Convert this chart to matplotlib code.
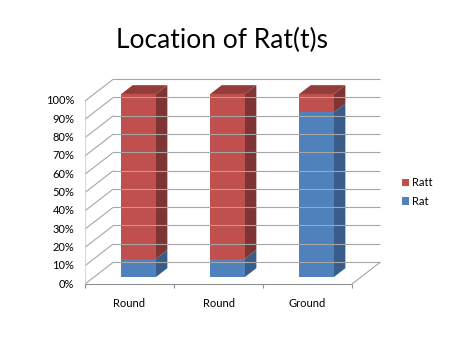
import numpy as np
import matplotlib.pyplot as plt
from matplotlib.patches import Polygon, Patch

# DATA
categories = ["Round", "Round", "Ground"]
rat = [10, 10, 90]
ratt = [90, 90, 10]
series_names = ["Rat", "Ratt"]
yticks = list(range(0, 101, 10))

# STYLE
front_colors = ["#4F81BD", "#C0504D"]
side_colors = ["#385D8A", "#7E3533"]
top_colors = ["#3E6797", "#943C3A"]
grid_color = "#A6A6A6"
plt.rcParams['font.family'] = ['Lato', 'DejaVu Sans']

fig = plt.figure(figsize=(4.59, 3.5), dpi=100)
ax = fig.add_axes([85 / 459, 66 / 350, 267 / 459, 183 / 350])
ax.set_xlim(0, len(categories))
ax.set_ylim(0, 100)
ax.axis('off')

# depth vector of the 3d box, in data units
dx, dy = 0.32, 12.0
f0, f1 = 0.32, 0.72   # bar front / back depth fraction
bar_w = 0.39
n = len(categories)

def line(xs, ys, **kw):
    ax.plot(xs, ys, clip_on=False, solid_capstyle='butt', **kw)

# walls
for v in yticks:
    line([dx, n + dx], [v + dy, v + dy], color=grid_color, lw=0.8)
    line([0, dx], [v, v + dy], color=grid_color, lw=0.8)
line([0, 0], [0, 100], color="#D0D0D0", lw=0.6)
line([0, n], [0, 0], color="#909090", lw=0.8)
line([n, n + dx], [0, dy], color=grid_color, lw=0.8)
for i in range(n + 1):
    line([i, i], [0, -2.3], color="#909090", lw=0.8)

# tick labels
for v in yticks:
    ax.text(-0.12, v, "{}%".format(v), ha='right', va='center', fontsize=8, clip_on=False)
for i, c in enumerate(categories):
    ax.text(i + 0.5, -10.4, c, ha='center', va='center', fontsize=8, clip_on=False)

# bars
series = [rat, ratt]
for i in range(n):
    bottom = 0
    xa = i + 0.5 - bar_w / 2 + dx * f0
    xb = xa + bar_w
    oy = dy * f0
    ddx, ddy = dx * (f1 - f0), dy * (f1 - f0)
    for s, vals in enumerate(series):
        y0, y1 = bottom + oy, bottom + vals[i] + oy
        ax.add_patch(Polygon([(xb, y0), (xb + ddx, y0 + ddy), (xb + ddx, y1 + ddy), (xb, y1)],
                             closed=True, facecolor=side_colors[s], edgecolor='none', clip_on=False))
        ax.add_patch(Polygon([(xa, y0), (xb, y0), (xb, y1), (xa, y1)],
                             closed=True, facecolor=front_colors[s], edgecolor='none', clip_on=False))
        bottom += vals[i]
        if s == len(series) - 1:
            ax.add_patch(Polygon([(xa, y1), (xb, y1), (xb + ddx, y1 + ddy), (xa + ddx, y1 + ddy)],
                                 closed=True, facecolor=top_colors[s], edgecolor='none', clip_on=False))

# legend
handles = [Patch(facecolor=front_colors[1], label=series_names[1]),
           Patch(facecolor=front_colors[0], label=series_names[0])]
fig.legend(handles=handles, loc='center left', bbox_to_anchor=(392 / 459, 1 - 192 / 350),
           frameon=False, fontsize=8, handlelength=0.6, handleheight=0.6,
           handletextpad=0.3, labelspacing=0.7)

fig.text(222.5 / 459, 1 - 40 / 350, "Location of Rat(t)s", ha='center', va='center', fontsize=19)

fig.savefig("out.png", dpi=100)
